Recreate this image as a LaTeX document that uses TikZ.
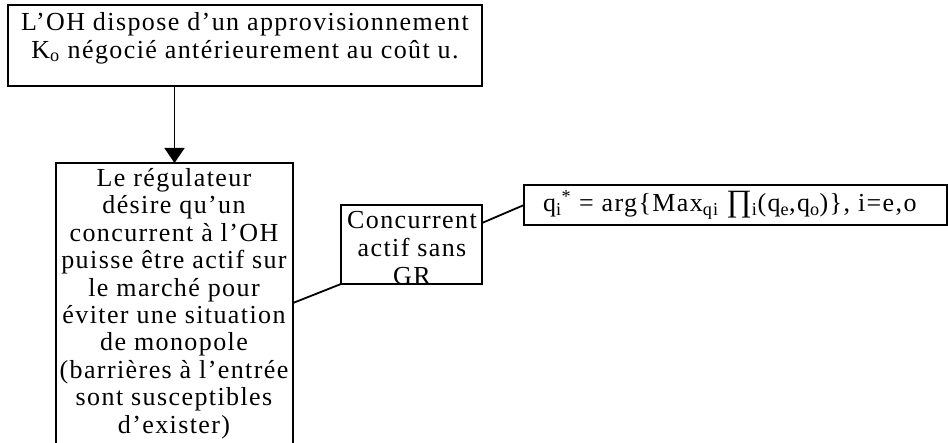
\documentclass[tikz,border=0pt]{standalone}
\usepackage{fontspec}
\setmainfont{Liberation Serif}[LetterSpace=5.4]
\newfontfamily\plainfont{Liberation Serif}
\usetikzlibrary{arrows.meta,calc}
\tikzset{
  boxshape/.style={draw=black, line width=1.8pt, inner sep=0pt, outer sep=0pt},
  txt/.style={inner sep=0pt, outer sep=0pt, align=center, font=\fontsize{26}{28}\selectfont},
  conn/.style={line width=1.8pt},
}
\begin{document}
\begin{tikzpicture}[x=1pt,y=-1pt]
\useasboundingbox (0,0) rectangle (948,443);
\clip (0,0) rectangle (948,443);
\node[boxshape, minimum width=474pt, minimum height=81pt] (top) at (245,45.5) {};
\node[txt, anchor=north] (toptext) at (245,12) {L’OH dispose d’un approvisionnement\\K\textsubscript{o} négocié antérieurement au coût u.};
\node[boxshape, minimum width=237pt, minimum height=320pt] (low) at (174.5,323) {};
\node[txt, anchor=north, font=\fontsize{26}{27.4}\selectfont] (lowtext) at (174,168.5) {Le régulateur\\désire qu’un\\concurrent à l’OH\\puisse être actif sur\\le marché pour\\éviter une situation\\de monopole\\(barrières à l’entrée\\sont susceptibles\\d’exister)};
\node[boxshape, minimum width=141pt, minimum height=79pt] (conc) at (411.5,244.5) {};
\node[txt, anchor=north] (conctext) at (412,211) {Concurrent\\actif sans\\GR};
\node[boxshape, minimum width=423pt, minimum height=40pt] (form) at (735.5,205) {};
\node[txt, anchor=base west] (formtext) at (543,212) {q\textsubscript{i}\textsuperscript{*} = arg\{Max\textsubscript{qi} {\plainfont\fontsize{31}{31}\selectfont ∏}\textsubscript{i}(q\textsubscript{e},q\textsubscript{o})\}, i=e,o};
\draw[conn, -{Triangle[width=20pt,length=15pt]}] (low.north |- top.south) -- (low.north);
\draw[conn] ($(low.north east)+(0,140)$) -- (conc.south west);
\draw[conn] ($(conc.north east)+(0,18)$) -- (form.west);
\end{tikzpicture}
\end{document}
